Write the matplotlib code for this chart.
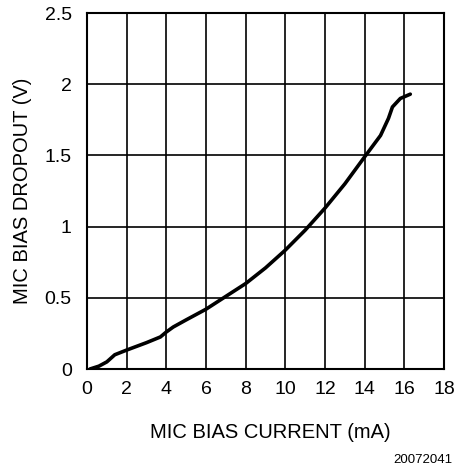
import matplotlib
matplotlib.use('Agg')
import matplotlib.pyplot as plt

plt.rcParams['font.family'] = ['Liberation Sans', 'DejaVu Sans']

# values
current_ma = [0.15, 0.6, 1.0, 1.4, 2.0, 3.0, 3.7, 4.0, 4.35, 5.0, 6.0, 7.0,
              8.0, 9.0, 10.0, 11.0, 12.0, 13.0, 14.0, 14.8, 15.2, 15.4,
              15.8, 16.3]
dropout_v = [0.0, 0.02, 0.05, 0.1, 0.133, 0.185, 0.225, 0.26, 0.295, 0.345,
             0.42, 0.51, 0.60, 0.71, 0.835, 0.975, 1.13, 1.30, 1.49, 1.64,
             1.76, 1.84, 1.90, 1.93]

x_ticks = [0, 2, 4, 6, 8, 10, 12, 14, 16, 18]
y_ticks = [0, 0.5, 1, 1.5, 2, 2.5]
y_tick_labels = ['0', '0.5', '1', '1.5', '2', '2.5']

fig = plt.figure(figsize=(4.54, 4.72), dpi=100)
ax = fig.add_axes([87 / 454, 103 / 472, 357 / 454, 356 / 472])

ax.plot(current_ma, dropout_v, color='black', lw=2.6, solid_capstyle='round',
        solid_joinstyle='round')

ax.set_xlim(0, 18)
ax.set_ylim(0, 2.5)
ax.set_xticks(x_ticks)
ax.set_yticks(y_ticks)
ax.set_yticklabels(y_tick_labels)
ax.grid(True, color='black', lw=1.2)
ax.tick_params(length=0, labelsize=14)
ax.tick_params(axis='x', pad=9)
ax.tick_params(axis='y', pad=11)
for s in ax.spines.values():
    s.set_linewidth(1.5)

ax.set_xlabel('MIC BIAS CURRENT (mA)', fontsize=14.5)
ax.set_ylabel('MIC BIAS DROPOUT (V)', fontsize=14.5)
ax.xaxis.set_label_coords((270 - 87) / 357, -(433 - 369) / 356)
ax.yaxis.set_label_coords(-(87 - 22.5) / 357, 0.5)
ax.xaxis.label.set_va('center')
ax.yaxis.label.set_va('center')
fig.text(452 / 454, 1 - 460 / 472, '20072041', ha='right', va='center', fontsize=9.5)

fig.savefig('out.png', dpi=100)
